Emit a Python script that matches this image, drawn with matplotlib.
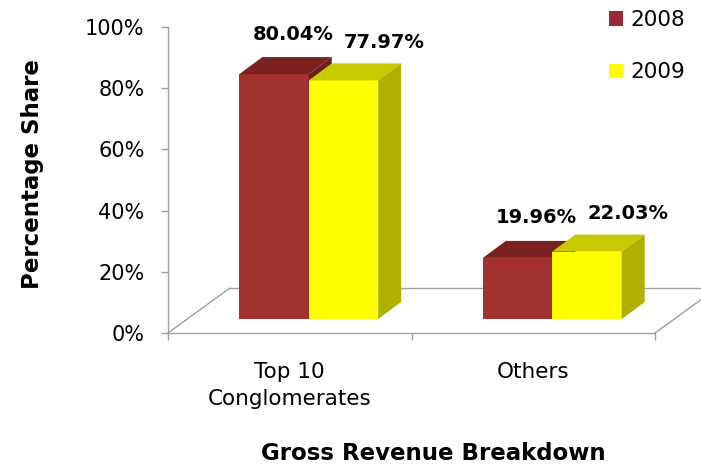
import matplotlib
matplotlib.use('Agg')
import matplotlib.pyplot as plt
from matplotlib.patches import Polygon, Patch
from matplotlib.transforms import ScaledTranslation

# ---------------- data ----------------
categories = ['Top 10\nConglomerates', 'Others']
series_names = ['2008', '2009']
values_2008 = [80.04, 19.96]
values_2009 = [77.97, 22.03]
value_labels_2008 = ['80.04%', '19.96%']
value_labels_2009 = ['77.97%', '22.03%']
y_ticks = [0, 20, 40, 60, 80, 100]
y_tick_labels = ['0%', '20%', '40%', '60%', '80%', '100%']

# ---------------- style ----------------
W, H = 701, 467
DPI = 100
front_colors = ['#A3312F', '#FFFF00']
top_colors = ['#7A2222', '#C9C900']
side_colors = ['#6E1D1D', '#B0B000']
legend_colors = ['#9C2A35', '#FFFF00']
grey = '#A0A0A0'
bar_width = 0.285          # in category units
bar_shift_px = (19, 14)    # bars sit behind the floor front edge
bar_depth_px = (23, 17)    # depth of each 3-D bar
floor_depth_px = (62, 45)  # depth of the floor
label_offsets_px = [(-4, 23), (18, 21)]

fig = plt.figure(figsize=(W / DPI, H / DPI), dpi=DPI)
fig.patch.set_facecolor('white')
ax = fig.add_axes([168 / W, 1 - 333 / H, 487 / W, 306 / H])
ax.set_xlim(0, len(categories))
ax.set_ylim(0, 100)
ax.set_facecolor('none')

# pixel <-> data scale from the axes
px_per_x = ax.bbox.width / len(categories)
px_per_y = ax.bbox.height / 100.0
bdx, bdy = bar_depth_px[0] / px_per_x, bar_depth_px[1] / px_per_y
fdx, fdy = floor_depth_px[0] / px_per_x, floor_depth_px[1] / px_per_y

shift_tr = ax.transData + ScaledTranslation(bar_shift_px[0] / DPI,
                                            bar_shift_px[1] / DPI,
                                            fig.dpi_scale_trans)

# ---------------- floor ----------------
ncat = len(categories)
ax.plot([0, fdx], [0, fdy], color=grey, lw=1, clip_on=False, zorder=1)
ax.plot([fdx, ncat + fdx], [fdy, fdy], color=grey, lw=1, clip_on=False, zorder=1)
ax.plot([ncat, ncat + fdx], [0, fdy], color=grey, lw=1, clip_on=False, zorder=1)

# ---------------- bars ----------------
series_values = [values_2008, values_2009]
series_labels = [value_labels_2008, value_labels_2009]
offsets = [-bar_width / 2, bar_width / 2]
for i in range(ncat):
    for s in range(len(series_names)):
        v = series_values[s][i]
        xc = i + 0.5 + offsets[s]
        x0, x1 = xc - bar_width / 2, xc + bar_width / 2
        z = 3 + i * 10 + s * 3
        ax.bar([xc], [v], width=bar_width, color=front_colors[s],
               transform=shift_tr, zorder=z, linewidth=0)
        top = Polygon([(x0, v), (x1, v), (x1 + bdx, v + bdy), (x0 + bdx, v + bdy)],
                      closed=True, facecolor=top_colors[s], edgecolor='none',
                      transform=shift_tr, zorder=z + 1)
        side = Polygon([(x1, 0), (x1, v), (x1 + bdx, v + bdy), (x1 + bdx, bdy)],
                       closed=True, facecolor=side_colors[s], edgecolor='none',
                       transform=shift_tr, zorder=z + 1)
        ax.add_patch(top)
        ax.add_patch(side)
        ax.annotate(series_labels[s][i], xy=(xc + bdx, v + bdy), xycoords=shift_tr,
                    xytext=label_offsets_px[s], textcoords='offset pixels',
                    ha='center', va='center', fontsize=14, fontweight='bold',
                    color='black', zorder=50, annotation_clip=False)

# ---------------- axes styling ----------------
for sp in ['top', 'right']:
    ax.spines[sp].set_visible(False)
for sp in ['left', 'bottom']:
    ax.spines[sp].set_color(grey)
    ax.spines[sp].set_linewidth(1)
    ax.spines[sp].set_zorder(2)

ax.set_yticks(y_ticks)
ax.set_yticklabels(y_tick_labels)
ax.tick_params(axis='y', length=5, width=1, color=grey, pad=12, labelsize=15,
               labelcolor='black')

ax.set_xticks([i + 0.5 for i in range(ncat)])
ax.set_xticklabels(categories, linespacing=1.45)
ax.set_xticks(list(range(ncat + 1)), minor=True)
ax.tick_params(axis='x', which='major', length=0, pad=21, labelsize=15.5,
               labelcolor='black')
ax.tick_params(axis='x', which='minor', length=5, width=1, color=grey)

ax.set_ylabel('Percentage Share', fontsize=16.5, fontweight='bold')
ax.yaxis.set_label_coords((33 - 168) / 487, (333 - 174) / 306)
ax.yaxis.label.set_va('center')
ax.set_xlabel('Gross Revenue Breakdown', fontsize=16.5, fontweight='bold')
ax.xaxis.set_label_coords((433 - 168) / 487, (333 - 454) / 306)
ax.xaxis.label.set_va('center')

# ---------------- legend ----------------
handles = [Patch(facecolor=c, edgecolor='none') for c in legend_colors]
fig.legend(handles, series_names, loc='upper left',
           bbox_to_anchor=(609 / W, 1 - 10 / H), bbox_transform=fig.transFigure,
           frameon=False, fontsize=15.5, handlelength=0.65, handleheight=0.65,
           handletextpad=0.35, labelspacing=1.5, borderpad=0, borderaxespad=0)

fig.savefig('out.png', dpi=DPI)
